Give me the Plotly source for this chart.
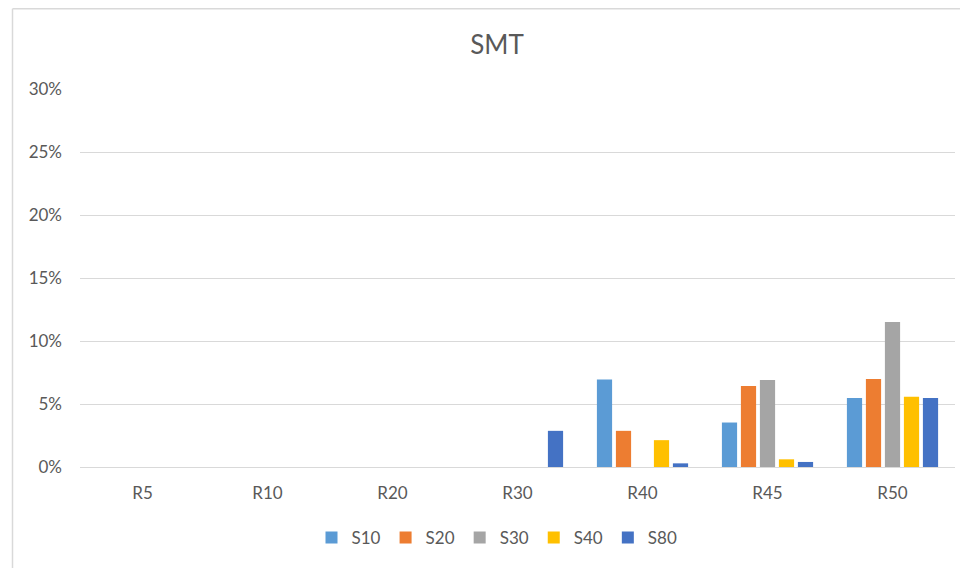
import plotly.graph_objects as go

categories = ["R5", "R10", "R20", "R30", "R40", "R45", "R50"]
series_names = ["S10", "S20", "S30", "S40", "S80"]
s10 = [0, 0, 0, 0, 0.0694, 0.0353, 0.0548]
s20 = [0, 0, 0, 0, 0.0287, 0.0643, 0.0699]
s30 = [0, 0, 0, 0, 0, 0.0691, 0.1151]
s40 = [0, 0, 0, 0, 0.0213, 0.0061, 0.0558]
s80 = [0, 0, 0, 0.0287, 0.0029, 0.0040, 0.0548]
colors = ["#5B9BD5", "#ED7D31", "#A5A5A5", "#FFC000", "#4472C4"]
y_ticks = [0, 0.05, 0.10, 0.15, 0.20, 0.25, 0.30]

FONT = "Lato, 'Open Sans', sans-serif"
GREY = "#595959"

# the page shows the figure 8 px right and down (body margin), so the
# margins are reduced by 8 px on the left and top to compensate
L, T, PW, PH = 72, 81, 875, 378
W, H = 968, 568

fig = go.Figure()
for name, vals, col in zip(series_names, [s10, s20, s30, s40, s80], colors):
    fig.add_trace(go.Bar(name=name, x=categories, y=vals, marker_color=col,
                         marker_line_width=0))

fig.update_layout(
    width=W, height=H,
    paper_bgcolor="white", plot_bgcolor="white",
    margin=dict(l=L, r=W - L - PW, t=T, b=H - T - PH),
    barmode="group", bargap=0.24, bargroupgap=0.2,
    font=dict(family=FONT, color=GREY, size=17),
    title=dict(text="SMT", x=(497 - 8) / W, xref="container", y=1 - (45 - 8) / H,
               yref="container", xanchor="center", yanchor="middle",
               font=dict(size=26, color=GREY, family=FONT)),
    legend=dict(orientation="h", x=(505 - 88) / PW, xanchor="center",
                y=(467 - 538) / PH, yanchor="middle",
                font=dict(size=17, color=GREY),
                itemwidth=30, traceorder="normal"),
    showlegend=True,
)
fig.update_yaxes(range=[0, 0.30], tickvals=y_ticks, tickformat=".0%",
                 showgrid=True, gridcolor="#d9d9d9", gridwidth=1,
                 zeroline=True, zerolinecolor="#d9d9d9", zerolinewidth=1,
                 showline=False, ticklabelstandoff=17,
                 tickfont=dict(size=17, color=GREY))
fig.update_xaxes(showgrid=False, showline=False, ticklabelstandoff=14,
                 tickfont=dict(size=17, color=GREY))

# chart frame (left and top edges)
fx = (4.5 - L) / PW
fy = (T + PH - 0.75) / PH
fig.add_shape(type="line", xref="paper", yref="paper",
              x0=fx, x1=fx, y0=(T + PH - H) / PH, y1=fy,
              line=dict(color="#d9d9d9", width=1.5))
fig.add_shape(type="line", xref="paper", yref="paper",
              x0=fx, x1=(W - L) / PW, y0=fy, y1=fy,
              line=dict(color="#d9d9d9", width=1.5))

fig.write_html("out.html")
